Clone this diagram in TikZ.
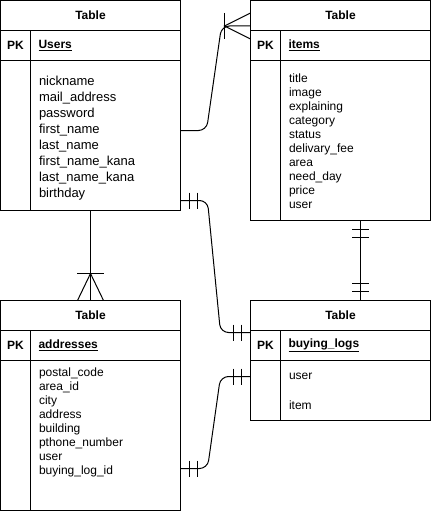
\documentclass[tikz,border=0pt]{standalone}
\usepackage{fontspec}
\setmainfont{Liberation Sans}
\usetikzlibrary{positioning}

\tikzset{
  ttl/.style={draw, minimum width=180pt, minimum height=30pt, inner sep=0pt, outer sep=0pt, font=\bfseries\fontsize{12}{14}\selectfont},
  pk/.style={draw, minimum width=30pt, minimum height=30pt, inner sep=0pt, outer sep=0pt, font=\bfseries\fontsize{12}{14}\selectfont},
  keyname/.style={draw, minimum width=150pt, minimum height=30pt, text width=134pt, inner xsep=8pt, inner ysep=0pt, outer sep=0pt, align=left, font=\bfseries\fontsize{12}{14}\selectfont},
  col/.style={draw, minimum width=30pt, inner sep=0pt, outer sep=0pt},
  body/.style={draw, minimum width=150pt, inner sep=0pt, outer sep=0pt},
  fld/.style={anchor=base west, text width=140pt, inner sep=0pt, align=left, font=\fontsize{12}{14}\selectfont},
  rel/.style={rounded corners=8pt},
}

\begin{document}
\begin{tikzpicture}[x=1pt, y=-1pt, line width=1pt]
\useasboundingbox (0,0) rectangle (431,511);

% Users table
\node[ttl] (UT) at (90.5,15.5) {Table};
\node[pk, below right=0pt and 0pt of UT.south west] (UK) {PK};
\node[keyname, right=0pt of UK] (UN) {\underline{Users}};
\node[col, minimum height=150pt, below=0pt of UK] (UC) {};
\node[body, minimum height=150pt, right=0pt of UC] (UB) {};
\node[fld, font=\fontsize{13}{16}\selectfont] (UF) at ([xshift=8pt, yshift=-25pt]UB.north west)
  {nickname\\mail\_address\\password\\first\_name\\last\_name\\first\_name\_kana\\last\_name\_kana\\birthday};

% Items table
\node[ttl] (IT) at (340.5,15.5) {Table};
\node[pk, below right=0pt and 0pt of IT.south west] (IK) {PK};
\node[keyname, right=0pt of IK] (IN) {\underline{items}};
\node[col, minimum height=160pt, below=0pt of IK] (IC) {};
\node[body, minimum height=160pt, right=0pt of IC] (IB) {};
\node[fld] (IF) at ([xshift=8pt, yshift=-22pt]IB.north west)
  {title\\image\\explaining\\category\\status\\delivary\_fee\\area\\need\_day\\price\\user};

% Addresses table
\node[ttl] (AT) at (90.5,315.5) {Table};
\node[pk, below right=0pt and 0pt of AT.south west] (AK) {PK};
\node[keyname, right=0pt of AK] (AN) {\underline{addresses}};
\node[col, minimum height=150pt, below=0pt of AK] (AC) {};
\node[body, minimum height=150pt, right=0pt of AC] (AB) {};
\node[fld] (AF) at ([xshift=8pt, yshift=-16pt]AB.north west)
  {postal\_code\\area\_id\\city\\address\\building\\pthone\_number\\user\\buying\_log\_id};

% Buying logs table
\node[ttl] (BT) at (340.5,315.5) {Table};
\node[pk, below right=0pt and 0pt of BT.south west] (BK) {PK};
\node[keyname, right=0pt of BK] (BN) {\underline{buying\_logs}};
\node[col, minimum height=60pt, below=0pt of BK] (BC) {};
\node[body, minimum height=60pt, right=0pt of BC] (BB) {};
\node[fld, font=\fontsize{12}{30}\selectfont] (BF) at ([xshift=8pt, yshift=-19pt]BB.north west)
  {user\\item};

% Connection points
\coordinate (u2i) at ([yshift=-70pt]UB.north east);
\coordinate (i2u) at ([yshift=4.5pt]IT.south west);
\coordinate (u2a) at (UT.south |- UB.south);
\coordinate (u2b) at ([yshift=-140pt]UB.north east);
\coordinate (b2u) at ([yshift=-2pt]BT.south west);
\coordinate (i2b) at ([xshift=5pt]IB.south);
\coordinate (b2i) at (i2b |- BT.north);
\coordinate (a2b) at ([yshift=-108pt]AB.north east);
\coordinate (b2a) at ([yshift=-16pt]BC.north west);

% Users -> items (one to many)
\draw[rel] (u2i) -- ++(26,0) -- ([xshift=-29pt]i2u) -- (i2u);
\draw ([xshift=-26pt, yshift=13pt]i2u) -- ([xshift=-26pt, yshift=-13pt]i2u);
\draw ([yshift=13pt]i2u) -- ([xshift=-26pt]i2u) -- ([yshift=-13pt]i2u);

% Users -> addresses (one to many)
\draw (u2a) -- (AT.north);
\draw ([xshift=-13.5pt, yshift=27pt]AT.north) -- ([xshift=13.5pt, yshift=27pt]AT.north);
\draw ([xshift=-13pt]AT.north) -- ([yshift=27pt]AT.north) -- ([xshift=13pt]AT.north);

% Users -> buying logs (one to one)
\draw[rel] (u2b) -- ++(27,0) -- ([xshift=-30pt]b2u) -- (b2u);
\foreach \d in {9,17} {
  \draw ([xshift=\d pt, yshift=8pt]u2b) -- ([xshift=\d pt, yshift=-8pt]u2b);
  \draw ([xshift=-\d pt, yshift=8pt]b2u) -- ([xshift=-\d pt, yshift=-8pt]b2u);
}

% Items -> buying logs (one to one)
\draw (i2b) -- (b2i);
\foreach \d in {9,17} {
  \draw ([xshift=-8.5pt, yshift=-\d pt]i2b) -- ([xshift=8.5pt, yshift=-\d pt]i2b);
  \draw ([xshift=-8.5pt, yshift=\d pt]b2i) -- ([xshift=8.5pt, yshift=\d pt]b2i);
}

% Addresses -> buying logs (one to one)
\draw[rel] (a2b) -- ++(27,0) -- ([xshift=-30pt]b2a) -- (b2a);
\foreach \d in {9,17} {
  \draw ([xshift=\d pt, yshift=8pt]a2b) -- ([xshift=\d pt, yshift=-8pt]a2b);
  \draw ([xshift=-\d pt, yshift=8pt]b2a) -- ([xshift=-\d pt, yshift=-8pt]b2a);
}
\end{tikzpicture}
\end{document}
